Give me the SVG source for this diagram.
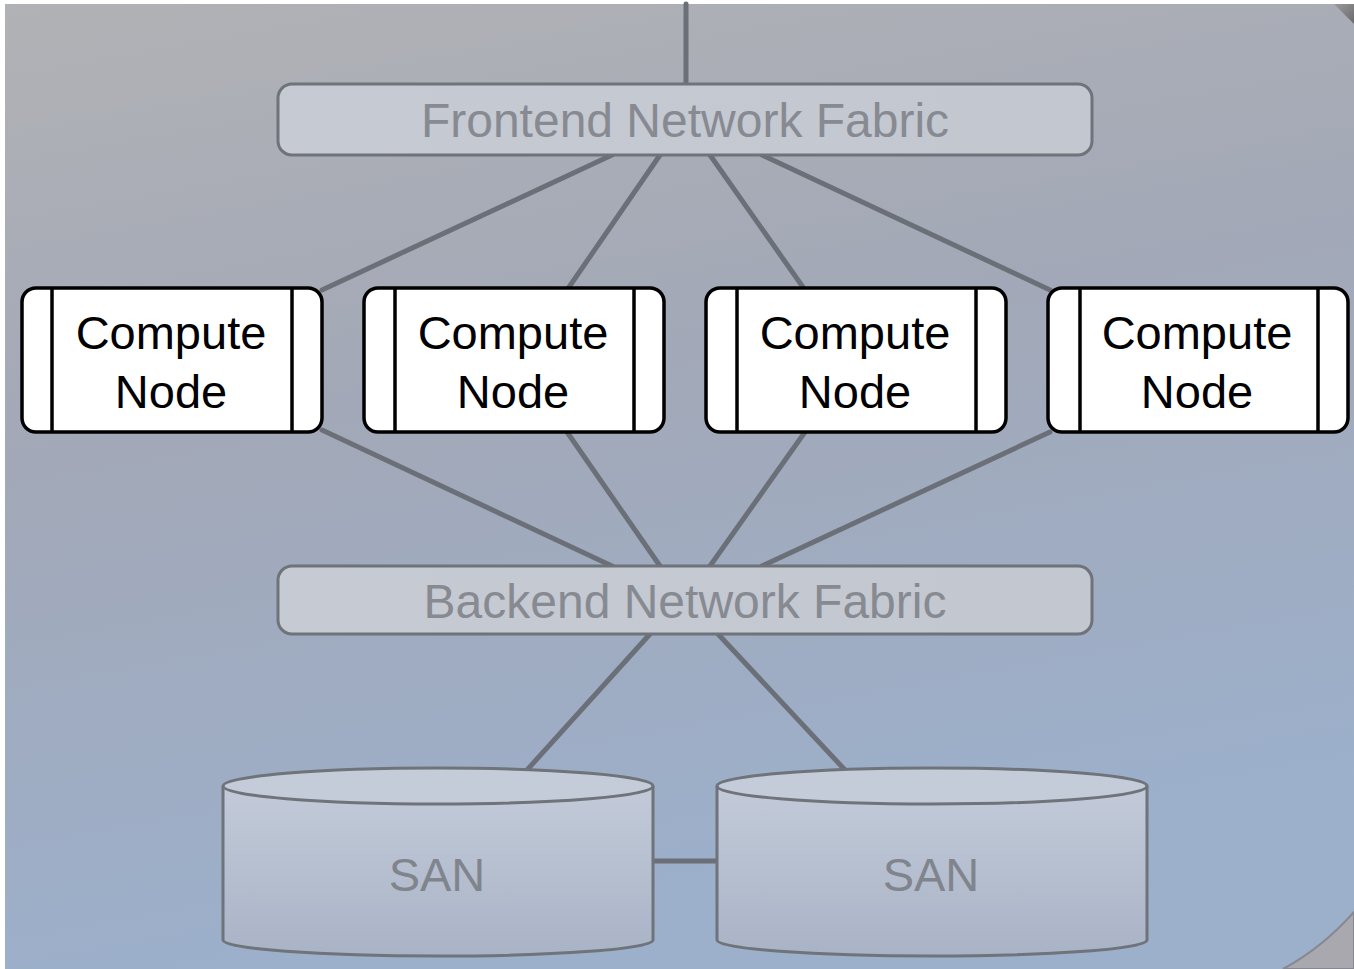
<svg xmlns="http://www.w3.org/2000/svg" width="1354" height="969" viewBox="0 0 1354 969">
<defs>
<linearGradient id="bg" x1="0" y1="0" x2="0.25" y2="1">
<stop offset="0" stop-color="#b1b2b5"/>
<stop offset="0.45" stop-color="#a2a8b7"/>
<stop offset="1" stop-color="#9cb0cc"/>
</linearGradient>
<linearGradient id="fab" x1="0" y1="0" x2="1" y2="0">
<stop offset="0" stop-color="#c6cad3"/>
<stop offset="1" stop-color="#c2c7d0"/>
</linearGradient>
<linearGradient id="san" x1="0" y1="0" x2="0" y2="1">
<stop offset="0" stop-color="#c3cbd9"/>
<stop offset="1" stop-color="#a9b3c6"/>
</linearGradient>
<linearGradient id="corner" x1="0" y1="0" x2="1" y2="1">
<stop offset="0" stop-color="#9a9a9c"/>
<stop offset="1" stop-color="#6a6a6c"/>
</linearGradient>
</defs>
<style>
.fabric{fill:url(#fab);stroke:#6f737a;stroke-width:3}
.ftxt{font-family:"Liberation Sans",Arial,sans-serif;font-size:48px;fill:#878a91;text-anchor:middle}
.cn{fill:#ffffff;stroke:#000000;stroke-width:3.5}
.cnl{stroke:#000000;stroke-width:3.5;fill:none}
.ctxt{font-family:"Liberation Sans",Arial,sans-serif;font-size:47px;fill:#000000;text-anchor:middle}
.san{fill:url(#san);stroke:#6f737a;stroke-width:3}
.santop{fill:#c4ccda;stroke:#6f737a;stroke-width:3}
.stxt{font-family:"Liberation Sans",Arial,sans-serif;font-size:47px;fill:#80848c;text-anchor:middle}
.link{stroke:#6b6f77;stroke-width:5;fill:none;stroke-linecap:round}
</style>
<rect x="0" y="0" width="1354" height="969" fill="#ffffff"/>
<rect x="5" y="4" width="1349" height="965" fill="url(#bg)"/>
<path d="M1283 969 Q1322 948 1354 912 L1354 969 Z" fill="#a9a8af" stroke="#868892" stroke-width="2"/>
<path d="M1334 4 L1354 4 L1354 24 Z" fill="url(#corner)"/>

<g id="connectors">
<line class="link" x1="686" y1="4" x2="686" y2="84"/>
<line class="link" x1="612" y1="155" x2="322" y2="290"/>
<line class="link" x1="660" y1="155" x2="567" y2="290"/>
<line class="link" x1="710" y1="155" x2="805" y2="290"/>
<line class="link" x1="762" y1="155" x2="1050" y2="290"/>
<line class="link" x1="322" y1="430" x2="612" y2="566"/>
<line class="link" x1="567" y1="432" x2="660" y2="566"/>
<line class="link" x1="805" y1="432" x2="710" y2="566"/>
<line class="link" x1="1050" y1="432" x2="762" y2="566"/>
<line class="link" x1="650" y1="634" x2="527" y2="770"/>
<line class="link" x1="718" y1="634" x2="845" y2="770"/>
<line class="link" x1="653" y1="861" x2="717" y2="861"/>
</g>

<g id="frontend">
<rect class="fabric" x="278" y="84" width="814" height="71" rx="14"/>
<text class="ftxt" x="685" y="137">Frontend Network Fabric</text>
</g>

<g id="compute1">
<rect class="cn" x="22" y="288" width="300" height="144" rx="14"/>
<line class="cnl" x1="52" y1="288" x2="52" y2="432"/>
<line class="cnl" x1="292" y1="288" x2="292" y2="432"/>
<text class="ctxt" x="171" y="349">Compute</text>
<text class="ctxt" x="171" y="408">Node</text>
</g>
<g id="compute2">
<rect class="cn" x="364" y="288" width="300" height="144" rx="14"/>
<line class="cnl" x1="395" y1="288" x2="395" y2="432"/>
<line class="cnl" x1="634" y1="288" x2="634" y2="432"/>
<text class="ctxt" x="513" y="349">Compute</text>
<text class="ctxt" x="513" y="408">Node</text>
</g>
<g id="compute3">
<rect class="cn" x="706" y="288" width="300" height="144" rx="14"/>
<line class="cnl" x1="737" y1="288" x2="737" y2="432"/>
<line class="cnl" x1="976" y1="288" x2="976" y2="432"/>
<text class="ctxt" x="855" y="349">Compute</text>
<text class="ctxt" x="855" y="408">Node</text>
</g>
<g id="compute4">
<rect class="cn" x="1048" y="288" width="300" height="144" rx="14"/>
<line class="cnl" x1="1080" y1="288" x2="1080" y2="432"/>
<line class="cnl" x1="1318" y1="288" x2="1318" y2="432"/>
<text class="ctxt" x="1197" y="349">Compute</text>
<text class="ctxt" x="1197" y="408">Node</text>
</g>

<g id="backend">
<rect class="fabric" x="278" y="566" width="814" height="68" rx="14"/>
<text class="ftxt" x="685" y="618">Backend Network Fabric</text>
</g>

<g id="san1">
<path class="san" d="M223 786 L223 940 A215 16 0 0 0 653 940 L653 786"/>
<ellipse class="santop" cx="438" cy="786" rx="215" ry="18"/>
<text class="stxt" x="437" y="891">SAN</text>
</g>
<g id="san2">
<path class="san" d="M717 786 L717 940 A215 16 0 0 0 1147 940 L1147 786"/>
<ellipse class="santop" cx="932" cy="786" rx="215" ry="18"/>
<text class="stxt" x="931" y="891">SAN</text>
</g>
</svg>
